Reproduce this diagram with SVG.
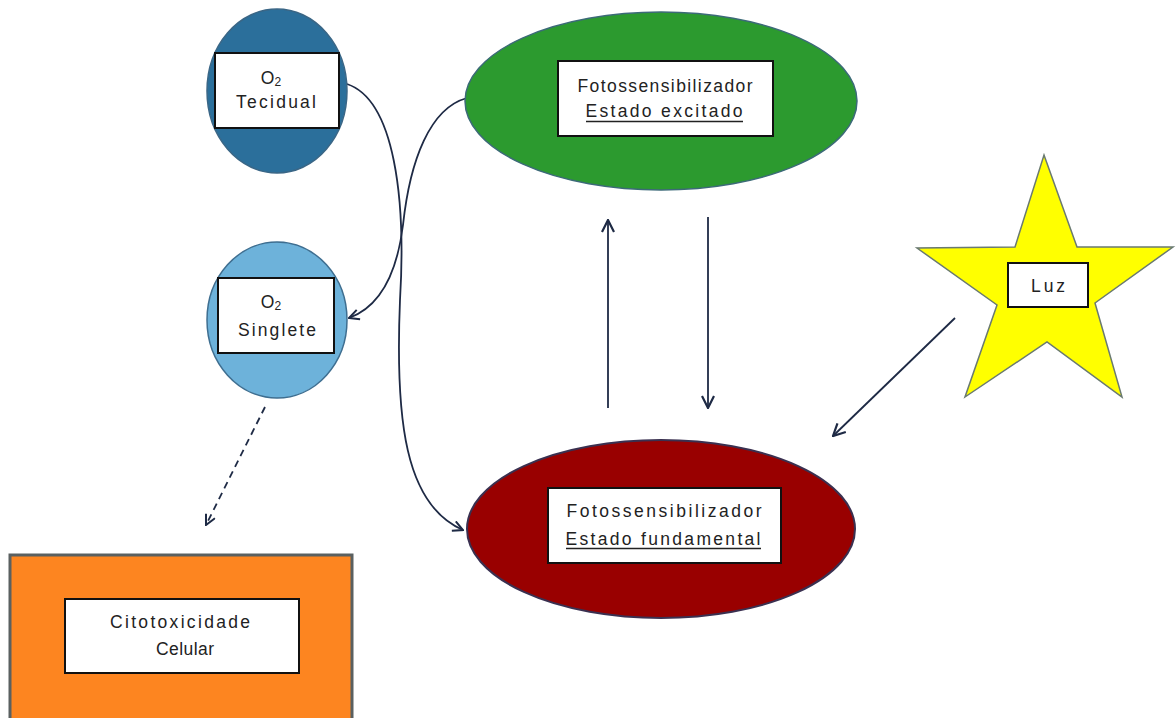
<svg xmlns="http://www.w3.org/2000/svg" width="1176" height="718" viewBox="0 0 1176 718">
<defs>
<style>
.lbl{fill:#fff;stroke:#111;stroke-width:2}
.t{font-family:"Liberation Sans",Arial,sans-serif;font-size:17.5px;fill:#222;text-anchor:middle}
.ul{stroke:#222;stroke-width:1.3}
.con{fill:none;stroke:#1e2a45;stroke-width:1.8}
</style>
<marker id="ah" viewBox="0 0 12 12" refX="11" refY="6" markerWidth="12" markerHeight="12" markerUnits="userSpaceOnUse" orient="auto">
<path d="M1,1 L11,6 L1,11" fill="none" stroke="#1e2a45" stroke-width="2"/>
</marker>
<marker id="ah2" viewBox="0 0 14 14" refX="13" refY="7" markerWidth="14" markerHeight="14" markerUnits="userSpaceOnUse" orient="auto">
<path d="M1,1 L13,7 L1,13" fill="none" stroke="#1e2a45" stroke-width="2.2"/>
</marker>
</defs>
<rect width="1176" height="718" fill="#fff"/>

<g id="connectors">
<path class="con" d="M347,84 C395,100 406,200 400,300 C395,420 405,505 463,530" marker-end="url(#ah)"/>
<path class="con" d="M467,98 C430,108 410,160 403,225 C398,265 385,305 349,318" marker-end="url(#ah)"/>
<line class="con" x1="608" y1="408" x2="608" y2="220" stroke-width="2.6" marker-end="url(#ah2)"/>
<line class="con" x1="708" y1="217" x2="708" y2="408" stroke-width="2.6" marker-end="url(#ah2)"/>
<line class="con" x1="955" y1="318" x2="833" y2="436" marker-end="url(#ah2)"/>
<line class="con" x1="265" y1="407" x2="206" y2="525" stroke-dasharray="7,5" marker-end="url(#ah)"/>
</g>

<g id="o2-tecidual">
<ellipse cx="277" cy="91" rx="70" ry="82" fill="#2b6f9b" stroke="#3a6686" stroke-width="1.5"/>
<rect class="lbl" x="215" y="53" width="124" height="75"/>
<text class="t" x="271" y="84">O<tspan font-size="12" dy="2">2</tspan></text>
<text class="t" x="276" y="108" textLength="80" lengthAdjust="spacing">Tecidual</text>
</g>

<g id="o2-singlete">
<ellipse cx="277" cy="320" rx="70" ry="78" fill="#6db2da" stroke="#3e6e90" stroke-width="1.5"/>
<rect class="lbl" x="218" y="278" width="116" height="75"/>
<text class="t" x="271" y="308">O<tspan font-size="12" dy="2">2</tspan></text>
<text class="t" x="277" y="336" textLength="78" lengthAdjust="spacing">Singlete</text>
</g>

<g id="excitado">
<ellipse cx="661" cy="101" rx="196" ry="89" fill="#2c9a2f" stroke="#3c6a78" stroke-width="1.5"/>
<rect class="lbl" x="558" y="61" width="215" height="75"/>
<text class="t" x="665" y="92" textLength="175" lengthAdjust="spacing">Fotossensibilizador</text>
<text class="t" x="664" y="117" textLength="157" lengthAdjust="spacing">Estado excitado</text>
<line class="ul" x1="586" y1="121.5" x2="743" y2="121.5"/>
</g>

<g id="fundamental">
<ellipse cx="661" cy="529" rx="194" ry="89" fill="#990000" stroke="#3a3050" stroke-width="2"/>
<rect class="lbl" x="548" y="488" width="233" height="75"/>
<text class="t" x="664" y="517" textLength="195" lengthAdjust="spacing">Fotossensibilizador</text>
<text class="t" x="663" y="545" textLength="195" lengthAdjust="spacing">Estado fundamental</text>
<line class="ul" x1="566" y1="548.5" x2="761" y2="548.5"/>
</g>

<g id="luz">
<polygon points="1044,155 1077,247 1173,247 1095,303 1122,397 1047,342 965,397 997,305 917,248 1015,247" fill="#ffff00" stroke="#6a7a70" stroke-width="1.5"/>
<rect class="lbl" x="1008" y="263" width="80" height="44"/>
<text class="t" x="1048" y="292" font-size="19" textLength="34" lengthAdjust="spacing">Luz</text>
</g>

<g id="citotoxicidade">
<rect x="10" y="555" width="342" height="175" fill="#fd8520" stroke="#5a6060" stroke-width="3"/>
<rect class="lbl" x="65" y="599" width="234" height="74"/>
<text class="t" x="180" y="628" textLength="140" lengthAdjust="spacing">Citotoxicidade</text>
<text class="t" x="185" y="655" textLength="58" lengthAdjust="spacing">Celular</text>
</g>
</svg>
